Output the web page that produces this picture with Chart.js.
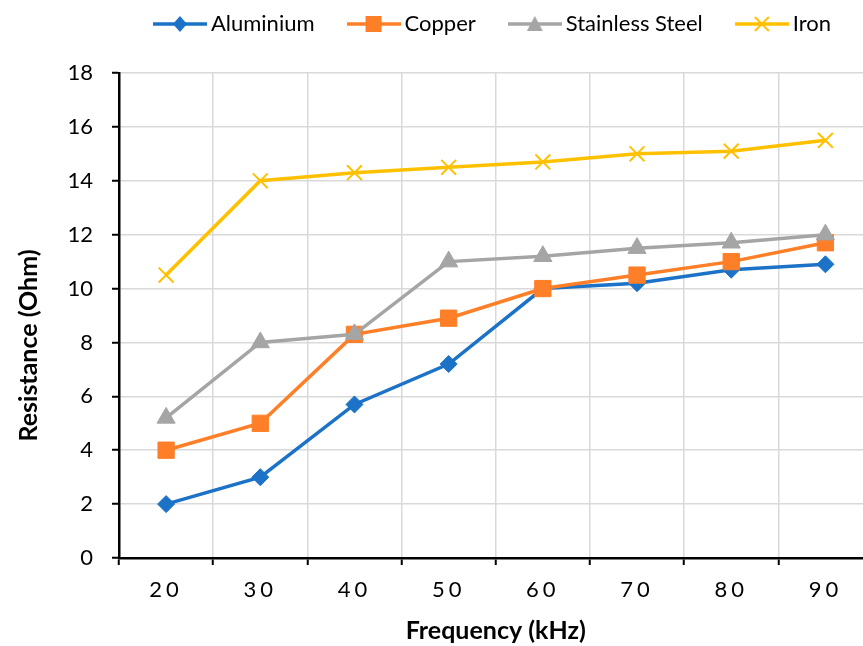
<!DOCTYPE html>
<html lang="en">

<head>
    <meta charset="UTF-8">
    <script src="https://cdn.jsdelivr.net/npm/chart.js"></script>
    <title>resistance</title>
    <style>
        body { margin: 0; overflow: hidden; background: #fff; }
        #box { position: absolute; left: 0; top: 0; width: 885px; height: 646px; }
    </style>
</head>

<body>
    <div id="box">
        <canvas id="grafico" width="885" height="646"></canvas>
    </div>

<script>
    // dados
    const frequencias = ['20', '30', '40', '50', '60', '70', '80', '90'];
    const aluminio = [2, 3, 5.7, 7.2, 10, 10.2, 10.7, 10.9];
    const cobre = [4, 5, 8.3, 8.9, 10, 10.5, 11, 11.7];
    const inox = [5.2, 8, 8.3, 11, 11.2, 11.5, 11.7, 12];
    const ferro = [10.5, 14, 14.3, 14.5, 14.7, 15, 15.1, 15.5];
    const nomes = ['Aluminium', 'Copper', 'Stainless Steel', 'Iron'];
    const cores = ['#1B72C6', '#FE7F27', '#A5A5A5', '#FFC000'];
    const marcadores = ['rectRot', 'rect', 'triangle', 'crossRot'];

    const fonte = 'Lato, "Noto Sans", sans-serif';

    // icone da legenda: linha + marcador
    function iconeLegenda(i) {
        const c = document.createElement('canvas');
        c.width = 54;
        c.height = 22;
        const g = c.getContext('2d');
        g.strokeStyle = cores[i];
        g.fillStyle = cores[i];
        g.lineWidth = 3.5;
        g.beginPath();
        g.moveTo(0, 11);
        g.lineTo(54, 11);
        g.stroke();
        g.beginPath();
        if (marcadores[i] == 'rectRot') {
            g.moveTo(27, 3); g.lineTo(34, 11); g.lineTo(27, 19); g.lineTo(20, 11);
            g.closePath(); g.fill();
        } else if (marcadores[i] == 'rect') {
            g.rect(19, 3, 16, 16); g.fill();
        } else if (marcadores[i] == 'triangle') {
            g.moveTo(27, 3); g.lineTo(35, 18); g.lineTo(19, 18);
            g.closePath(); g.fill();
        } else {
            g.lineWidth = 2;
            g.moveTo(20, 4); g.lineTo(34, 18);
            g.moveTo(34, 4); g.lineTo(20, 18);
            g.stroke();
        }
        return c;
    }
    const icones = nomes.map((n, i) => iconeLegenda(i));

    // posiciona a legenda acima da área do gráfico
    const ajusteLegenda = {
        id: 'ajusteLegenda',
        afterLayout(chart) {
            const lg = chart.legend;
            const pad = lg.options.labels.padding;
            const tam = lg.options.labels.font.size;
            lg.top = 24 - pad - tam / 2;
            const x0 = (lg.left + pad + lg.right - lg.lineWidths[0]) / 2;
            const centro = x0 + (lg.lineWidths[0] - pad - 7) / 2;
            const dx = 492 - centro;
            lg.left += dx;
            lg.right += dx;
        }
    };

    // espaçamento dos dígitos do eixo x e título do eixo y um pouco mais abaixo
    const ajusteEixos = {
        id: 'ajusteEixos',
        beforeDraw(chart) {
            const sx = chart.scales.x;
            if (!sx._espaco) {
                const orig = sx.drawLabels;
                sx.drawLabels = function (area) {
                    this.ctx.save();
                    this.ctx.letterSpacing = '4px';
                    orig.call(this, area);
                    this.ctx.restore();
                };
                sx._espaco = true;
            }
            const sy = chart.scales.y;
            if (!sy._desce) {
                const origT = sy.drawTitle;
                sy.drawTitle = function () {
                    this.ctx.save();
                    this.ctx.translate(0, 30);
                    origT.call(this);
                    this.ctx.restore();
                };
                sy._desce = true;
            }
        }
    };

    const series = [aluminio, cobre, inox, ferro];
    const datasets = series.map((dados, i) => ({
        label: nomes[i],
        data: dados,
        borderColor: cores[i],
        backgroundColor: cores[i],
        borderWidth: 3.5,
        pointStyle: marcadores[i],
        pointRadius: [8.5, 11.5, 10.5, 10.5][i],
        pointBorderWidth: marcadores[i] == 'crossRot' ? 2 : 1,
        pointBorderColor: cores[i],
        pointBackgroundColor: cores[i],
        tension: 0,
        order: 3 - i
    }));

    const config = {
        type: 'line',
        data: { labels: frequencias, datasets: datasets },
        options: {
            responsive: false,
            animation: false,
            devicePixelRatio: 1,
            layout: { padding: { top: 2, left: 0, right: 0, bottom: 0 } },
            plugins: {
                tooltip: { enabled: false },
                legend: {
                    position: 'top',
                    labels: {
                        usePointStyle: true,
                        pointStyleWidth: 40,
                        padding: 39,
                        color: '#000',
                        font: { family: fonte, size: 22 },
                        generateLabels: () => nomes.map((n, i) => ({
                            text: n,
                            pointStyle: icones[i],
                            fillStyle: cores[i],
                            strokeStyle: cores[i],
                            lineWidth: 0,
                            hidden: false,
                            datasetIndex: i,
                            fontColor: '#000'
                        }))
                    }
                }
            },
            scales: {
                x: {
                    offset: true,
                    grid: { offset: true, color: '#D9D9D9', lineWidth: 1.5, tickColor: '#000', tickLength: 7, tickWidth: 2 },
                    border: { color: '#000', width: 2.5 },
                    ticks: { color: '#000', padding: 12, font: { family: fonte, size: 22 }, maxRotation: 0 },
                    title: {
                        display: true,
                        text: 'Frequency (kHz)',
                        color: '#000',
                        font: { family: fonte, size: 25, weight: 'bold', lineHeight: 1.2 },
                        padding: { top: 0, bottom: 0 }
                    },
                    afterFit: (s) => {
                        s.height = 88;
                        s.paddingLeft = 0;
                        s.paddingRight = 0;
                    }
                },
                y: {
                    min: 0,
                    max: 18,
                    grid: { color: '#D9D9D9', lineWidth: 1.5, tickColor: '#000', tickLength: 7, tickWidth: 2 },
                    border: { color: '#000', width: 2.5 },
                    ticks: { stepSize: 2, color: '#000', padding: 19, font: { family: fonte, size: 22 } },
                    title: {
                        display: true,
                        text: 'Resistance (Ohm)',
                        color: '#000',
                        font: { family: fonte, size: 25, weight: 'bold', lineHeight: 1.2 },
                        padding: { top: 14, bottom: 0 }
                    },
                    afterFit: (s) => { s.width = 119; }
                }
            }
        },
        plugins: [ajusteLegenda, ajusteEixos]
    };

    let ctx = document.getElementById('grafico').getContext('2d');
    let myChart = new Chart(ctx, config);
</script>
</body>

</html>
